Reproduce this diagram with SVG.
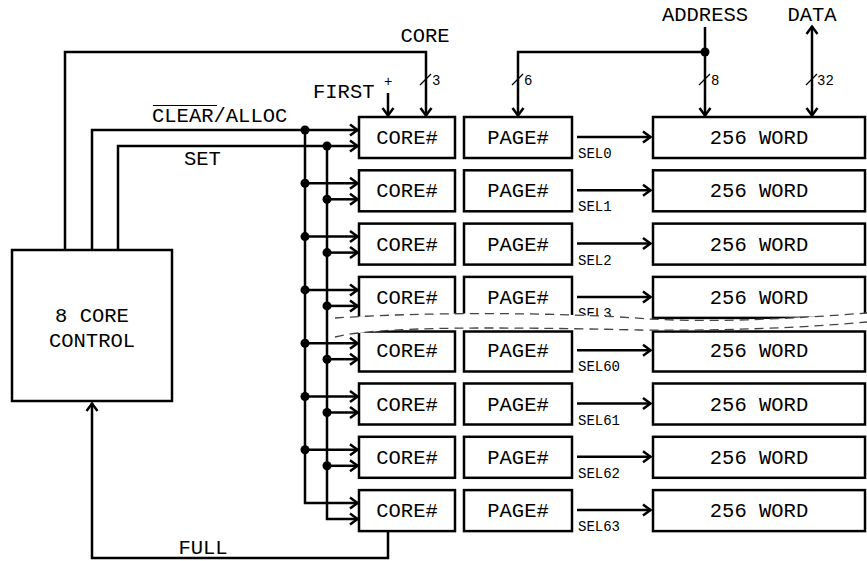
<svg xmlns="http://www.w3.org/2000/svg" width="867" height="561" viewBox="0 0 867 561">
<style>
.box{fill:#fff;stroke:#000;stroke-width:2.5}
.w{fill:none;stroke:#000;stroke-width:2.5}
.t{font-family:"Liberation Mono","Courier New",monospace;font-size:20.5px;fill:#000}
.tc{font-family:"Liberation Mono","Courier New",monospace;font-size:20.5px;fill:#000;text-anchor:middle}
.s{font-family:"Liberation Mono","Courier New",monospace;font-size:14px;fill:#000}
.sl{stroke:#000;stroke-width:1.2}
.dash{fill:none;stroke:#444;stroke-width:1.3;stroke-dasharray:9 6}
</style>
<defs>
<marker id="arr" markerUnits="userSpaceOnUse" markerWidth="12" markerHeight="14" viewBox="0 0 12 14" refX="10" refY="7" orient="auto-start-reverse">
<path d="M2,1.5 L9.5,7 L2,12.5" fill="none" stroke="#000" stroke-width="2.5"/>
</marker>
</defs>
<rect width="867" height="561" fill="#fff"/>
<g id="connectors">
<polyline class="w" points="65,249 65,52 426,52 426,116" marker-end="url(#arr)"/>
<line class="w" x1="388" y1="93" x2="388" y2="116" marker-end="url(#arr)"/>
<polyline class="w" points="92,249 92,130 358,130" marker-end="url(#arr)"/>
<polyline class="w" points="118,249 118,146 358,146" marker-end="url(#arr)"/>
<polyline class="w" points="305,130 305,503 358,503" marker-end="url(#arr)"/>
<polyline class="w" points="327,146 327,519 358,519" marker-end="url(#arr)"/>
<g id="bus-arrows">
<line class="w" x1="305" y1="183.3" x2="358" y2="183.3" marker-end="url(#arr)"/>
<line class="w" x1="327" y1="199.3" x2="358" y2="199.3" marker-end="url(#arr)"/>
<line class="w" x1="305" y1="236.6" x2="358" y2="236.6" marker-end="url(#arr)"/>
<line class="w" x1="327" y1="252.6" x2="358" y2="252.6" marker-end="url(#arr)"/>
<line class="w" x1="305" y1="289.9" x2="358" y2="289.9" marker-end="url(#arr)"/>
<line class="w" x1="327" y1="305.9" x2="358" y2="305.9" marker-end="url(#arr)"/>
<line class="w" x1="305" y1="343.2" x2="358" y2="343.2" marker-end="url(#arr)"/>
<line class="w" x1="327" y1="359.2" x2="358" y2="359.2" marker-end="url(#arr)"/>
<line class="w" x1="305" y1="396.5" x2="358" y2="396.5" marker-end="url(#arr)"/>
<line class="w" x1="327" y1="412.5" x2="358" y2="412.5" marker-end="url(#arr)"/>
<line class="w" x1="305" y1="449.8" x2="358" y2="449.8" marker-end="url(#arr)"/>
<line class="w" x1="327" y1="465.8" x2="358" y2="465.8" marker-end="url(#arr)"/>
</g>
<g id="dots" fill="#000">
<circle cx="305" cy="130" r="4.5"/><circle cx="327" cy="146" r="4.5"/>
<circle cx="305" cy="183.3" r="4.5"/><circle cx="327" cy="199.3" r="4.5"/>
<circle cx="305" cy="236.6" r="4.5"/><circle cx="327" cy="252.6" r="4.5"/>
<circle cx="305" cy="289.9" r="4.5"/><circle cx="327" cy="305.9" r="4.5"/>
<circle cx="305" cy="343.2" r="4.5"/><circle cx="327" cy="359.2" r="4.5"/>
<circle cx="305" cy="396.5" r="4.5"/><circle cx="327" cy="412.5" r="4.5"/>
<circle cx="305" cy="449.8" r="4.5"/><circle cx="327" cy="465.8" r="4.5"/>
<circle cx="705" cy="52" r="4.5"/>
</g>
<polyline class="w" points="705,52 518,52 518,116" marker-end="url(#arr)"/>
<line class="w" x1="705" y1="27" x2="705" y2="116" marker-end="url(#arr)"/>
<line class="w" x1="812" y1="26" x2="812" y2="116" marker-start="url(#arr)" marker-end="url(#arr)"/>
<polyline class="w" points="388,532 388,558 92,558 92,403" marker-end="url(#arr)"/>
<line class="w" x1="577" y1="137" x2="651" y2="137" marker-end="url(#arr)"/>
<line class="w" x1="577" y1="190.3" x2="651" y2="190.3" marker-end="url(#arr)"/>
<line class="w" x1="577" y1="243.6" x2="651" y2="243.6" marker-end="url(#arr)"/>
<line class="w" x1="577" y1="296.9" x2="651" y2="296.9" marker-end="url(#arr)"/>
<line class="w" x1="577" y1="350.2" x2="651" y2="350.2" marker-end="url(#arr)"/>
<line class="w" x1="577" y1="403.5" x2="651" y2="403.5" marker-end="url(#arr)"/>
<line class="w" x1="577" y1="456.8" x2="651" y2="456.8" marker-end="url(#arr)"/>
<line class="w" x1="577" y1="510.1" x2="651" y2="510.1" marker-end="url(#arr)"/>
<line class="sl" x1="420" y1="85" x2="431" y2="74"/>
<line class="sl" x1="512" y1="85" x2="523" y2="74"/>
<line class="sl" x1="699" y1="85" x2="710" y2="74"/>
<line class="sl" x1="806" y1="85" x2="817" y2="74"/>
</g>
<g id="labels">
<text class="tc" x="425" y="42">CORE</text>
<text class="t" x="313" y="98">FIRST</text>
<text class="s" x="384" y="86">+</text>
<text class="s" x="432" y="85">3</text>
<text class="s" x="524" y="85">6</text>
<text class="s" x="711" y="85">8</text>
<text class="s" x="817" y="85">32</text>
<text class="tc" x="705" y="21">ADDRESS</text>
<text class="tc" x="812" y="21">DATA</text>
<text class="t" x="152" y="122">CLEAR/ALLOC</text>
<line x1="153" y1="105.5" x2="217" y2="105.5" stroke="#000" stroke-width="1"/>
<text class="t" x="184" y="165">SET</text>
<text class="tc" x="203" y="554">FULL</text>
<text class="s" x="578" y="158">SEL0</text>
<text class="s" x="578" y="211.3">SEL1</text>
<text class="s" x="578" y="264.6">SEL2</text>
<text class="s" x="578" y="317.9">SEL3</text>
<text class="s" x="578" y="371.2">SEL60</text>
<text class="s" x="578" y="424.5">SEL61</text>
<text class="s" x="578" y="477.8">SEL62</text>
<text class="s" x="578" y="531.1">SEL63</text>
</g>
<g id="control">
<rect class="box" x="12" y="250" width="160" height="151"/>
<text class="tc" x="92" y="322">8 CORE</text>
<text class="tc" x="92" y="347">CONTROL</text>
</g>
<g id="row0"><rect class="box" x="359" y="117" width="96" height="41"/><text class="tc" x="407" y="144">CORE#</text><rect class="box" x="464" y="117" width="108" height="41"/><text class="tc" x="518" y="144">PAGE#</text><rect class="box" x="653" y="117" width="212" height="41"/><text class="tc" x="759" y="144">256 WORD</text></g>
<g id="row1"><rect class="box" x="359" y="170.3" width="96" height="41"/><text class="tc" x="407" y="197.3">CORE#</text><rect class="box" x="464" y="170.3" width="108" height="41"/><text class="tc" x="518" y="197.3">PAGE#</text><rect class="box" x="653" y="170.3" width="212" height="41"/><text class="tc" x="759" y="197.3">256 WORD</text></g>
<g id="row2"><rect class="box" x="359" y="223.6" width="96" height="41"/><text class="tc" x="407" y="250.6">CORE#</text><rect class="box" x="464" y="223.6" width="108" height="41"/><text class="tc" x="518" y="250.6">PAGE#</text><rect class="box" x="653" y="223.6" width="212" height="41"/><text class="tc" x="759" y="250.6">256 WORD</text></g>
<g id="row3"><rect class="box" x="359" y="276.9" width="96" height="41"/><text class="tc" x="407" y="303.9">CORE#</text><rect class="box" x="464" y="276.9" width="108" height="41"/><text class="tc" x="518" y="303.9">PAGE#</text><rect class="box" x="653" y="276.9" width="212" height="41"/><text class="tc" x="759" y="303.9">256 WORD</text></g>
<g id="row4"><rect class="box" x="359" y="331.5" width="96" height="40"/><text class="tc" x="407" y="357.2">CORE#</text><rect class="box" x="464" y="331.5" width="108" height="40"/><text class="tc" x="518" y="357.2">PAGE#</text><rect class="box" x="653" y="331.5" width="212" height="40"/><text class="tc" x="759" y="357.2">256 WORD</text></g>
<g id="row5"><rect class="box" x="359" y="383.5" width="96" height="41"/><text class="tc" x="407" y="410.5">CORE#</text><rect class="box" x="464" y="383.5" width="108" height="41"/><text class="tc" x="518" y="410.5">PAGE#</text><rect class="box" x="653" y="383.5" width="212" height="41"/><text class="tc" x="759" y="410.5">256 WORD</text></g>
<g id="row6"><rect class="box" x="359" y="436.8" width="96" height="41"/><text class="tc" x="407" y="463.8">CORE#</text><rect class="box" x="464" y="436.8" width="108" height="41"/><text class="tc" x="518" y="463.8">PAGE#</text><rect class="box" x="653" y="436.8" width="212" height="41"/><text class="tc" x="759" y="463.8">256 WORD</text></g>
<g id="row7"><rect class="box" x="359" y="490.1" width="96" height="41"/><text class="tc" x="407" y="517.1">CORE#</text><rect class="box" x="464" y="490.1" width="108" height="41"/><text class="tc" x="518" y="517.1">PAGE#</text><rect class="box" x="653" y="490.1" width="212" height="41"/><text class="tc" x="759" y="517.1">256 WORD</text></g>
<g id="break">
<path d="M335,318 C420,312 560,312 650,319 C720,323 800,318 867,313 L867,322 C800,328 720,331 640,330 C500,327 380,326 335,337 Z" fill="#fff"/>
<path class="dash" d="M335,318 C420,312 560,312 650,319 C720,323 800,318 867,313"/>
<path class="dash" d="M335,337 C380,326 500,327 640,330 C720,331 800,328 867,322"/>
</g>
</svg>
